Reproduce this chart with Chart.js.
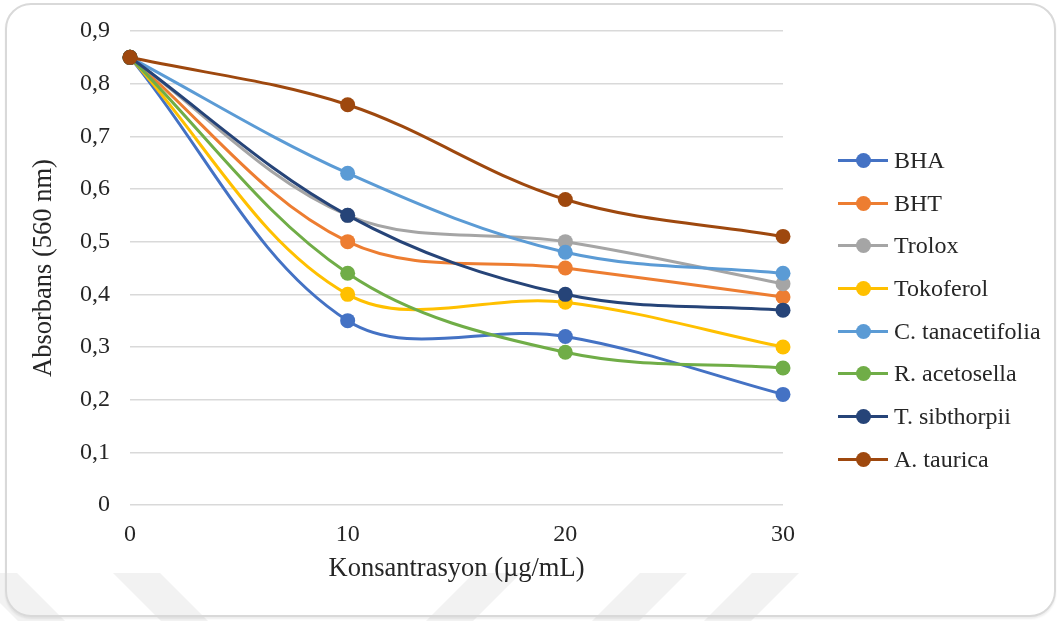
<!DOCTYPE html>
<html>
<head>
<meta charset="utf-8">
<script src="https://cdn.jsdelivr.net/npm/chart.js@4.4.1/dist/chart.umd.min.js"></script>
<style>
  html, body { margin: 0; padding: 0; background: #ffffff; }
  #stage { position: relative; width: 1061px; height: 621px; overflow: hidden; }
  .mark { position: absolute; left: 0; top: 0; width: 1061px; height: 621px; background: #f2f2f2; }
  #frame {
    position: absolute; left: 5px; top: 3px; width: 1047px; height: 610px;
    border: 2px solid #d9d9d9; border-radius: 26px;
    box-shadow: 0 2px 2px rgba(0,0,0,0.07);
  }
  #chart { position: absolute; left: 0; top: 0; }
  #legend { position: absolute; left: 838px; top: 139px; font-family: 'Liberation Serif', 'Times New Roman', serif; font-size: 24px; color: #262626; }
  .item { height: 42.7px; display: flex; align-items: center; }
  .key { position: relative; width: 50px; height: 15px; margin-right: 6px; }
  .key .ln { position: absolute; left: 0; top: 6px; width: 50px; height: 3px; }
  .key .dot { position: absolute; left: 17.5px; top: 0; width: 15px; height: 15px; border-radius: 50%; }
</style>
</head>
<body>
<div id="stage">
  <div class="mark" style="clip-path: polygon(-30px 573px, 17px 573px, 65px 621px, 18px 621px);"></div>
  <div class="mark" style="clip-path: polygon(113px 573px, 160px 573px, 208px 621px, 161px 621px);"></div>
  <div class="mark" style="clip-path: polygon(474px 573px, 521px 573px, 473px 621px, 426px 621px);"></div>
  <div class="mark" style="clip-path: polygon(640px 573px, 687px 573px, 639px 621px, 592px 621px);"></div>
  <div class="mark" style="clip-path: polygon(752px 573px, 799px 573px, 751px 621px, 704px 621px);"></div>
  <div id="frame"></div>
  <canvas id="chart" width="1061" height="621"></canvas>
  <div id="legend"></div>
</div>
<script>
// Concentrations on the x axis (µg/mL)
const concentrations = [0, 10, 20, 30];

// Absorbance at 560 nm for each sample
const seriesNames = ['BHA', 'BHT', 'Trolox', 'Tokoferol', 'C. tanacetifolia', 'R. acetosella', 'T. sibthorpii', 'A. taurica'];
const bha            = [0.85, 0.35, 0.32, 0.21];
const bht            = [0.85, 0.50, 0.45, 0.395];
const trolox         = [0.85, 0.55, 0.50, 0.42];
const tokoferol      = [0.85, 0.40, 0.385, 0.30];
const cTanacetifolia = [0.85, 0.63, 0.48, 0.44];
const rAcetosella    = [0.85, 0.44, 0.29, 0.26];
const tSibthorpii    = [0.85, 0.55, 0.40, 0.37];
const aTaurica       = [0.85, 0.76, 0.58, 0.51];
const seriesValues = [bha, bht, trolox, tokoferol, cTanacetifolia, rAcetosella, tSibthorpii, aTaurica];

const seriesColors = ['#4472C4', '#ED7D31', '#A5A5A5', '#FFC000', '#5B9BD5', '#70AD47', '#264478', '#9E480E'];

// Axis ticks
const xTicks = [0, 10, 20, 30];
const yTicks = [0, 0.1, 0.2, 0.3, 0.4, 0.5, 0.6, 0.7, 0.8, 0.9];

const FONT = "'Liberation Serif', 'Times New Roman', serif";
const TEXT = '#262626';

const datasets = seriesNames.map((name, i) => ({
  label: name,
  data: concentrations.map((c, j) => ({ x: c, y: seriesValues[i][j] })),
  borderColor: seriesColors[i],
  backgroundColor: seriesColors[i],
  borderWidth: 3,
  pointRadius: 7.5,
  pointHoverRadius: 7.5,
  pointBorderWidth: 0,
  tension: 0.35,
  fill: false,
  clip: false,
  // later series are painted over earlier ones
  order: seriesNames.length - 1 - i
}));

const fmt = v => (Math.abs(v) < 1e-9 ? '0' : v.toFixed(1).replace('.', ','));

new Chart(document.getElementById('chart'), {
  type: 'line',
  data: { datasets },
  options: {
    responsive: false,
    animation: false,
    layout: { padding: { top: 31, right: 278, bottom: 0, left: 0 } },
    plugins: { legend: { display: false }, tooltip: { enabled: false } },
    scales: {
      x: {
        type: 'linear',
        min: xTicks[0],
        max: xTicks[xTicks.length - 1],
        afterBuildTicks: s => { s.ticks = xTicks.map(v => ({ value: v })); },
        afterFit: s => { s.height = 116; },
        grid: { display: false, drawTicks: false },
        border: { display: false },
        ticks: { padding: 15, color: TEXT, font: { family: FONT, size: 24 }, callback: v => String(v) },
        title: { display: true, text: 'Konsantrasyon (µg/mL)', color: TEXT, font: { family: FONT, size: 26.5 }, padding: { top: 0, bottom: 36 } }
      },
      y: {
        min: 0,
        max: 0.9,
        afterBuildTicks: s => { s.ticks = yTicks.map(v => ({ value: v })); },
        afterFit: s => { s.width = 130; },
        grid: { color: '#d9d9d9', lineWidth: 1.5, drawTicks: true, tickLength: 20, tickColor: 'rgba(0,0,0,0)' },
        border: { display: false },
        ticks: { padding: 0, color: TEXT, font: { family: FONT, size: 24 }, callback: v => fmt(v) },
        title: { display: true, text: 'Absorbans (560 nm)', color: TEXT, font: { family: FONT, size: 26.5 }, padding: { top: 28, bottom: 0 } }
      }
    }
  }
});

// Legend: line with a marker, one row per series
const legend = document.getElementById('legend');
seriesNames.forEach((name, i) => {
  const row = document.createElement('div');
  row.className = 'item';
  row.innerHTML = '<span class="key"><span class="ln" style="background:' + seriesColors[i] + '"></span>' +
    '<span class="dot" style="background:' + seriesColors[i] + '"></span></span><span></span>';
  row.lastChild.textContent = name;
  legend.appendChild(row);
});
</script>
</body>
</html>
